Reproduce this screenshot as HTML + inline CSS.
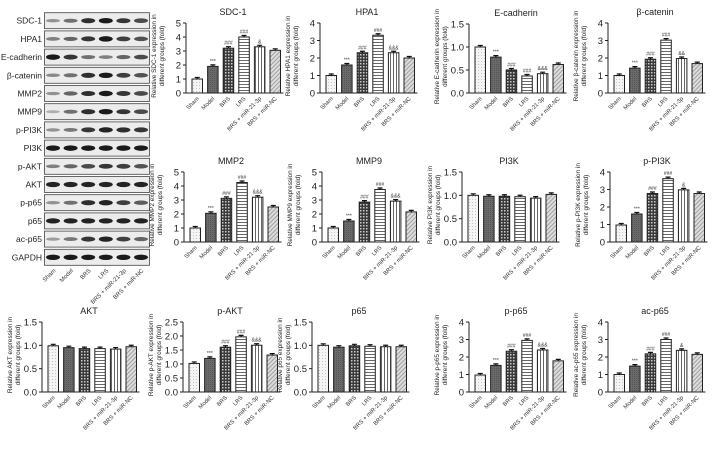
<!DOCTYPE html>
<html><head><meta charset="utf-8"><style>
html,body{margin:0;padding:0;background:#fff;}
svg{display:block;font-family:"Liberation Sans",sans-serif;}
</style></head><body>
<svg id="fig" width="726" height="453" viewBox="0 0 726 453" xmlns="http://www.w3.org/2000/svg">
<defs>
<pattern id="pSham" width="3" height="3" patternUnits="userSpaceOnUse"><rect width="3" height="3" fill="#f4f4f4"/><rect x="1" y="1" width="1" height="1" fill="#c4c4c4"/></pattern>
<pattern id="pModel" width="2" height="2" patternUnits="userSpaceOnUse"><rect width="2" height="2" fill="#6a6a6a"/><rect width="1" height="1" fill="#555"/></pattern>
<pattern id="pBRS" width="3" height="3" patternUnits="userSpaceOnUse"><rect width="3" height="3" fill="#3a3a3a"/><rect width="1.5" height="1.5" fill="#ccc"/></pattern>
<pattern id="pLRS" width="3" height="3" patternUnits="userSpaceOnUse"><rect width="3" height="3" fill="#fff"/><rect width="3" height="1" fill="#666"/></pattern>
<pattern id="pMiR" width="3" height="3" patternUnits="userSpaceOnUse"><rect width="3" height="3" fill="#fff"/><rect width="1" height="3" fill="#666"/></pattern>
<pattern id="pNC" width="3" height="3" patternUnits="userSpaceOnUse" patternTransform="rotate(45)"><rect width="3" height="3" fill="#ddd"/><rect width="1" height="3" fill="#a0a0a0"/></pattern>
</defs>
</svg>
<script>
const categories = ["Sham","Model","BRS","LRS","BRS + miR-21-3p","BRS + miR-NC"];
const fills = ["url(#pSham)","url(#pModel)","url(#pBRS)","url(#pLRS)","url(#pMiR)","url(#pNC)"];
const blotRows = ["SDC-1","HPA1","E-cadherin","β-catenin","MMP2","MMP9","p-PI3K","PI3K","p-AKT","AKT","p-p65","p65","ac-p65","GAPDH"];

const sdc1Values = [1.0,1.9,3.2,4.0,3.3,3.05];
const hpa1Values = [1.0,1.6,2.3,3.3,2.3,2.0];
const ecadValues = [1.0,0.78,0.5,0.37,0.42,0.62];
const bcatValues = [1.0,1.42,1.93,3.02,1.97,1.68];
const mmp2Values = [1.0,2.05,3.12,4.25,3.2,2.5];
const mmp9Values = [1.0,1.5,2.85,3.75,2.92,2.15];
const pi3kValues = [1.0,0.98,0.98,0.97,0.94,1.02];
const ppi3kValues = [0.97,1.6,2.77,3.62,2.98,2.77];
const aktValues = [0.99,0.95,0.93,0.93,0.92,0.97];
const paktValues = [1.02,1.2,1.6,1.97,1.67,1.32];
const p65Values = [1.0,0.96,0.99,0.98,0.97,0.97];
const pp65Values = [0.97,1.52,2.33,2.95,2.4,1.78];
const acp65Values = [1.0,1.48,2.18,3.0,2.38,2.15];

const ticks5 = ["0","1","2","3","4","5"];
const ticks4 = ["0","1","2","3","4"];
const ticks15 = ["0.0","0.5","1.0","1.5"];
const ticks25 = ["0.0","0.5","1.0","1.5","2.0","2.5"];

const annots3amp = ["","***","###","###","&&&",""];
const annots2amp = ["","***","###","###","&&",""];
const annots1amp = ["","***","###","###","&",""];
const annotsNone = ["","","","","",""];

const blotIntensity = [
 [0.3,0.5,0.85,0.95,0.8,0.7],[0.4,0.55,0.8,0.95,0.75,0.65],[0.95,0.8,0.5,0.4,0.55,0.7],
 [0.35,0.5,0.85,0.95,0.75,0.65],[0.3,0.55,0.85,0.95,0.8,0.7],[0.15,0.5,0.85,0.95,0.8,0.7],
 [0.3,0.45,0.8,0.9,0.85,0.8],[0.95,0.95,0.95,0.95,0.95,0.95],[0.4,0.55,0.7,0.8,0.75,0.65],
 [0.9,0.9,0.9,0.9,0.9,0.9],[0.3,0.5,0.85,0.9,0.75,0.6],[0.9,0.9,0.9,0.9,0.9,0.9],
 [0.25,0.45,0.8,0.9,0.75,0.55],[0.95,0.95,0.95,0.95,0.95,0.95]];

const NS = "http://www.w3.org/2000/svg";
const svg = document.getElementById("fig");
function mk(tag, attrs, parent){ const e=document.createElementNS(NS,tag); for(const k in attrs) e.setAttribute(k,attrs[k]); (parent||svg).appendChild(e); return e; }

const blot = mk("g",{});


blotRows.forEach((name,i)=>{
  const cy = 20.7 + i*18.2;
  const lab = mk("text",{x:42,y:cy+3,"text-anchor":"end","font-size":"8.5",fill:"#222"},blot);
  lab.textContent = name;
  
  
  const box = mk("rect",{x:44.5,y:cy-8,width:105,height:16,fill:"#ececec",stroke:"#444","stroke-width":"0.8"},blot);
  
  
  blotIntensity[i].forEach((v,j)=>{
    const bx = 53 + j*17.6;
    const band = mk("ellipse",{cx:bx,cy:cy,rx:7,ry:1.2+1.6*v,fill:"#111","fill-opacity":(0.15+0.85*v).toFixed(2)},blot);
    
    
  });
});
categories.forEach((c,j)=>{
  const x = 53 + j*17.6;
  const t = mk("text",{x:x+3,y:271,"text-anchor":"end","font-size":"6",fill:"#333",transform:`rotate(-45 ${x+3} 271)`},blot);
  t.textContent = c;
  
  
});

function chart(title, values, ticks, annots, ax, zeroY, topY){
  const g = mk("g",{});
  
  
  const maxV = parseFloat(ticks[ticks.length-1]);
  const y = v => zeroY - (v/maxV)*(zeroY-topY);
  const xb = i => ax + 6 + i*15.6;
  const bw = 10.5;
  const tt = mk("text",{x:ax+47,y:topY-8,"text-anchor":"middle","font-size":"9",fill:"#222"},g);
  tt.textContent = title;
  
  
  const yl = mk("text",{"font-size":"6.4",fill:"#222","text-anchor":"middle",transform:`translate(${ax-27} ${(zeroY+topY)/2-2}) rotate(-90)`},g);
  
  
  const s1 = mk("tspan",{x:0,dy:"-3"},yl); s1.textContent = `Relative ${title} expression in`;
  const s2 = mk("tspan",{x:0,dy:"8"},yl); s2.textContent = "different groups (fold)";
  values.forEach((v,i)=>{
    const bar = mk("rect",{x:xb(i),y:y(v),width:bw,height:zeroY-y(v),fill:fills[i],stroke:"#222","stroke-width":"1"},g);
    
    
    const cx = xb(i)+bw/2, e = y(v) - 1.5;
    const err = mk("path",{d:`M${cx} ${y(v)}V${e}M${cx-2.5} ${e}H${cx+2.5}`,stroke:"#111","stroke-width":"1.2",fill:"none"},g);
    
    
    if(annots[i]){
      const a = mk("text",{x:cx,y:e-2,"text-anchor":"middle","font-size":"5",fill:"#333"},g);
      a.textContent = annots[i];
      
      
    }
    const lx = cx+2, ly = zeroY+6;
    const xl = mk("text",{x:lx,y:ly,"text-anchor":"end","font-size":"5.8",fill:"#333",transform:`rotate(-45 ${lx} ${ly})`},g);
    xl.textContent = categories[i];
    
    
  });
  const axes = mk("path",{d:`M${ax} ${topY}V${zeroY}H${xb(5)+bw+3}`,stroke:"#222","stroke-width":"1",fill:"none"},g);
  
  
  ticks.forEach(t=>{
    const ty = y(parseFloat(t));
    mk("line",{x1:ax-3,x2:ax,y1:ty,y2:ty,stroke:"#222","stroke-width":"1"},g);
    const tl = mk("text",{x:ax-5,y:ty+3.5,"text-anchor":"end","font-size":"9.5",fill:"#222"},g);
    tl.textContent = t;
    
    
  });
}

chart("SDC-1", sdc1Values, ticks5, annots1amp, 186, 93, 23);
chart("HPA1", hpa1Values, ticks4, annots3amp, 320, 93, 23);
chart("E-cadherin", ecadValues, ticks15, annots3amp, 469, 93, 24);
chart("β-catenin", bcatValues, ticks4, annots2amp, 608, 93, 23);
chart("MMP2", mmp2Values, ticks5, annots3amp, 184, 242, 172);
chart("MMP9", mmp9Values, ticks5, annots3amp, 322, 242, 172);
chart("PI3K", pi3kValues, ticks15, annotsNone, 462, 242, 172);
chart("p-PI3K", ppi3kValues, ticks4, annots1amp, 610, 242, 172);
chart("AKT", aktValues, ticks15, annotsNone, 42, 392, 322);
chart("p-AKT", paktValues, ticks25, annots3amp, 183, 392, 322);
chart("p65", p65Values, ticks15, annotsNone, 312, 392, 322);
chart("p-p65", pp65Values, ticks4, annots3amp, 469, 392, 322);
chart("ac-p65", acp65Values, ticks4, annots1amp, 608, 392, 322);
</script>
</body></html>
